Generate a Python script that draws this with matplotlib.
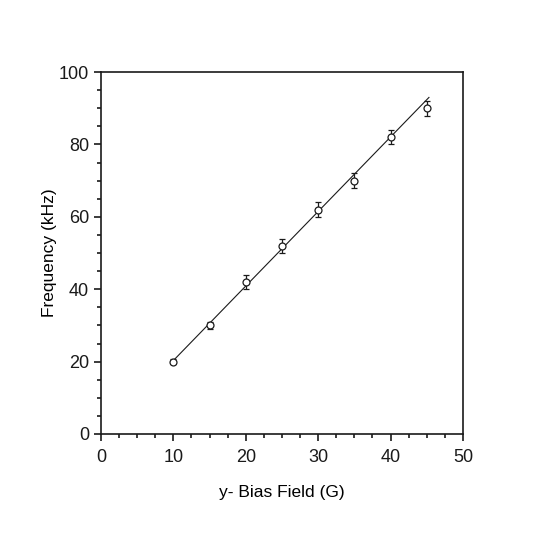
import numpy as np
import matplotlib.pyplot as plt
from matplotlib.ticker import MultipleLocator

plt.rcParams['font.family'] = ['Liberation Sans', 'DejaVu Sans']

# measured points
field = [10, 15, 20, 25, 30, 35, 40, 45]
freq = [20, 30, 42, 52, 62, 70, 82, 90]
freq_err = [0.6, 1.0, 2, 2, 2, 2, 2, 2]

# linear fit line (endpoints)
fit_x = [10.2, 45.3]
fit_y = [20.7, 93.0]

fig = plt.figure(figsize=(5.34, 5.45), dpi=100)
ax = fig.add_axes([0.189, 0.2037, 0.678, 0.664])

ax.plot(fit_x, fit_y, color='#1a1a1a', lw=0.8)
ax.errorbar(field, freq, yerr=freq_err, fmt='o', mfc='white', mec='#1a1a1a',
            ecolor='#1a1a1a', ms=5, mew=0.9, elinewidth=0.9, capsize=2.5,
            capthick=0.9)

ax.set_xlim(0, 50)
ax.set_ylim(0, 100)
ax.xaxis.set_major_locator(MultipleLocator(10))
ax.xaxis.set_minor_locator(MultipleLocator(2.5))
ax.yaxis.set_major_locator(MultipleLocator(20))
ax.yaxis.set_minor_locator(MultipleLocator(5))
ax.tick_params(which='both', direction='out', width=1.2, labelsize=13, colors='#1a1a1a')
ax.tick_params(which='major', length=5)
ax.tick_params(which='minor', length=3)
ax.tick_params(axis='x', which='major', pad=5.5)
for s in ax.spines.values():
    s.set_linewidth(1.2)
    s.set_color('#1a1a1a')

ax.set_xlabel('y- Bias Field (G)', fontsize=12.5, labelpad=14)
ax.set_ylabel('Frequency (kHz)', fontsize=12.5, labelpad=1)

fig.savefig('out.png', dpi=100)
